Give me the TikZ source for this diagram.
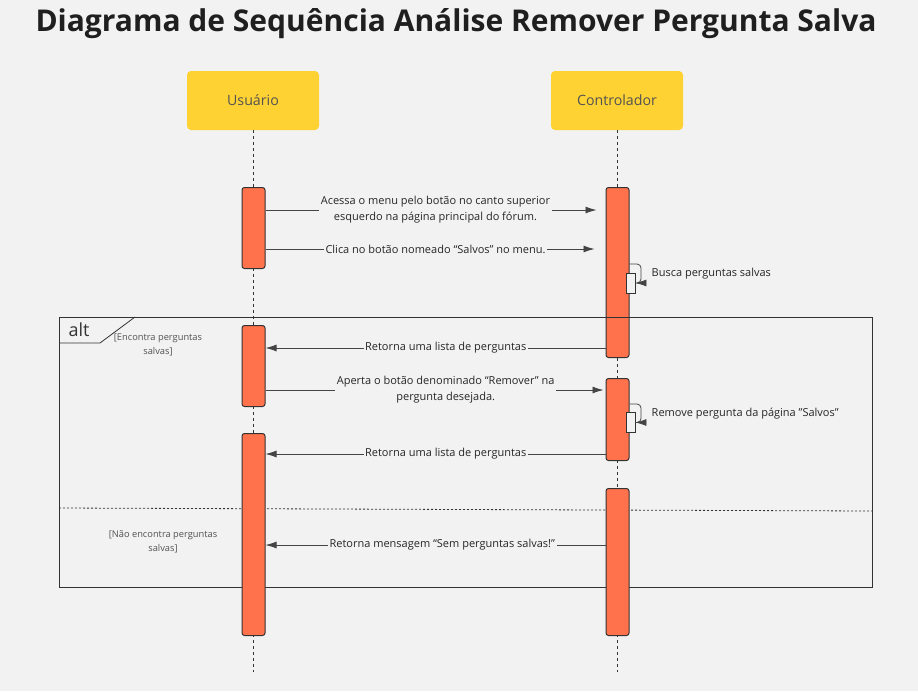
\documentclass[tikz,border=0pt]{standalone}
\usepackage{fontspec}
\setmainfont{Open Sans}
\usetikzlibrary{arrows.meta,calc}
\definecolor{bgc}{HTML}{F2F2F2}
\definecolor{hdr}{HTML}{FFD233}
\definecolor{actc}{HTML}{FF724C}
\definecolor{ink}{HTML}{333333}
\definecolor{linec}{HTML}{444444}
\tikzset{
  hdrbox/.style={fill=hdr, rounded corners=4pt, minimum width=132pt, minimum height=59pt, font=\fontsize{14.2}{16}\selectfont, text=ink!85},
  actbox/.style={draw=ink, line width=1pt, fill=actc, rounded corners=2.5pt, minimum width=23pt, anchor=north, inner sep=0pt},
  lifeline/.style={draw=ink, dash pattern=on 3pt off 3pt, line width=0.7pt},
  msg/.style={draw=linec, line width=0.8pt, -{Latex[length=11pt,width=7pt]}},
  msglabel/.style={fill=bgc, inner sep=1.5pt, align=center, font=\fontsize{11}{16}\selectfont, text=black!85},
  guard/.style={align=center, font=\fontsize{9.3}{14}\selectfont, text=ink!85},
  selfbox/.style={draw=ink, line width=0.8pt, fill=bgc, minimum width=9pt, minimum height=20pt, inner sep=0pt},
}
\begin{document}
\begin{tikzpicture}[x=1pt,y=-1pt]
\useasboundingbox (0,0) rectangle (918,691);
\fill[bgc] (0,0) rectangle (918,691);
% title
\node[font=\fontsize{30}{34}\bfseries, text=black!88] (title) at (456,24) {Diagrama de Sequência Análise Remover Pergunta Salva};
% headers
\node[hdrbox] (hu) at (253,100.5) {Usuário};
\node[hdrbox] (hc) at (617,100.5) {Controlador};
% lifelines
\coordinate (uend) at (253,672);
\coordinate (cend) at (617,672);
\draw[lifeline] (hu.south) -- (uend);
\draw[lifeline] (hc.south) -- (cend);
% alt frame
\coordinate (fa) at (59,317);
\coordinate (fb) at (872,587);
\draw[ink, line width=1pt] (fa) rectangle (fb);
\draw[ink, line width=0.8pt] (59,343) -- (100,343) -- (135,317);
\node[font=\fontsize{18}{20}\selectfont, text=ink, anchor=west] (alt) at (65,330) {alt};
\node[guard] (g1) at (158,345) {[Encontra perguntas\\salvas]};
\node[guard] (g2) at (163,542) {[Não encontra perguntas\\salvas]};
\coordinate (da) at (59,508);
\coordinate (db) at (872,511);
\draw[ink, line width=0.8pt, dash pattern=on 2pt off 2pt] (da) -- (db);
% activation boxes
\node[actbox, minimum height=81pt] (u1) at (253.5,187) {};
\node[actbox, minimum height=81pt] (u2) at (253.5,325) {};
\node[actbox, minimum height=202pt] (u3) at (253.5,433) {};
\node[actbox, minimum height=170pt] (c1) at (617.5,187) {};
\node[actbox, minimum height=82pt] (c2) at (617.5,378) {};
\node[actbox, minimum height=147pt] (c3) at (617.5,488) {};
% frame top line passes over c1
\draw[ink, line width=1pt] (c1.west |- fa) -- (c1.east |- fa);
% messages
\draw[msg, shorten >=9pt] (u1.east |- 0,210) -- (c1.west |- 0,210)
  node[msglabel, pos=0.5] (m1) {Acessa o menu pelo botão no canto superior\\esquerdo na página principal do fórum.};
\draw[msg, shorten >=11pt] (u1.east |- 0,249) -- (c1.west |- 0,249)
  node[msglabel, pos=0.5] (m2) {Clica no botão nomeado “Salvos” no menu.};
% self 1
\node[selfbox] (s1) at (630.5,283) {};
\draw[msg, rounded corners=4pt] (c1.east |- 0,264) -- (641,264) -- (641,283) -- (s1.east);
\node[msglabel, anchor=west] (m3) at (650,274) {Busca perguntas salvas};
\draw[msg] (c1.west |- 0,348) -- (u2.east |- 0,348)
  node[msglabel, pos=0.47] (m4) {Retorna uma lista de perguntas};
\draw[msg, shorten >=2pt] (u2.east |- 0,390) -- (c2.west |- 0,390)
  node[msglabel, pos=0.53] (m5) {Aperta o botão denominado “Remover” na\\pergunta desejada.};
% self 2
\node[selfbox] (s2) at (630.5,422.5) {};
\draw[msg, rounded corners=4pt] (c2.east |- 0,404) -- (641,404) -- (641,422.5) -- (s2.east);
\node[msglabel, anchor=west] (m6) at (650,414) {Remove pergunta da página \symbol{34}Salvos\symbol{34}};
\draw[msg] (c2.west |- 0,454) -- (u3.east |- 0,454)
  node[msglabel, pos=0.47] (m7) {Retorna uma lista de perguntas};
\draw[msg] (c3.west |- 0,545) -- (u3.east |- 0,545)
  node[msglabel, pos=0.48] (m8) {Retorna mensagem “Sem perguntas salvas!”};
\end{tikzpicture}
\end{document}
